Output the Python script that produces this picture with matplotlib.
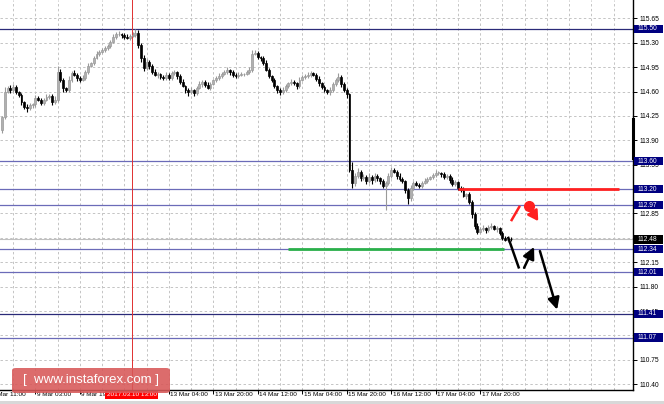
import matplotlib
matplotlib.use("Agg")
import matplotlib.pyplot as plt
import matplotlib.transforms as mtransforms
from matplotlib.patches import Rectangle, FancyBboxPatch

# ---------------- data ----------------
first_open = 114.05
closes = [
    114.23, 114.60, 114.65, 114.62, 114.66, 114.59, 114.55, 114.45, 114.38, 114.36,
    114.40, 114.42, 114.51, 114.48, 114.44, 114.48, 114.52, 114.54, 114.45, 114.48,
    114.88, 114.77, 114.65, 114.62, 114.77, 114.87, 114.84, 114.79, 114.77, 114.79,
    114.88, 114.97, 115.01, 115.08, 115.14, 115.17, 115.20, 115.22, 115.25, 115.31,
    115.38, 115.42, 115.42, 115.41, 115.38, 115.37, 115.40, 115.41, 115.44, 115.27,
    115.08, 114.94, 115.02, 114.97, 114.88, 114.84, 114.85, 114.81, 114.79, 114.84,
    114.79, 114.86, 114.88, 114.82, 114.74, 114.68, 114.62, 114.59, 114.62, 114.58,
    114.65, 114.71, 114.74, 114.69, 114.65, 114.71, 114.76, 114.79, 114.82, 114.85,
    114.88, 114.91, 114.88, 114.84, 114.82, 114.84, 114.85, 114.85, 114.88, 114.91,
    115.14, 115.15, 115.09, 115.08, 115.01, 114.91, 114.82, 114.77, 114.68, 114.62,
    114.59, 114.62, 114.68, 114.72, 114.74, 114.72, 114.68, 114.77, 114.81, 114.82,
    114.84, 114.86, 114.84, 114.78, 114.72, 114.66, 114.62, 114.59, 114.62, 114.71,
    114.76, 114.81, 114.71, 114.62, 114.56, 113.47, 113.29, 113.39, 113.45, 113.36,
    113.37, 113.32, 113.38, 113.33, 113.39, 113.36, 113.31, 113.25, 113.29, 113.39,
    113.47, 113.45, 113.39, 113.35, 113.31, 113.19, 113.07, 113.22, 113.29, 113.26,
    113.25, 113.29, 113.32, 113.35, 113.37, 113.40, 113.43, 113.43, 113.42, 113.37,
    113.39, 113.33, 113.27, 113.30, 113.22, 113.19, 113.10, 113.13, 113.02, 112.84,
    112.67, 112.59, 112.63, 112.64, 112.61, 112.66, 112.67, 112.63, 112.64, 112.57,
    112.50, 112.47, 112.49, 112.48,
]
wick_up = [
    2, 6, 3, 4, 5, 3, 2, 3, 2, 4,  3, 2, 4, 3, 2, 3, 4, 2, 3, 5,
    8, 4, 3, 2, 5, 3, 4, 2, 3, 4,  3, 4, 2, 3, 4, 3, 2, 4, 3, 3,
    4, 3, 5, 2, 3, 4, 3, 5, 6, 4,  3, 5, 4, 3, 2, 4, 3, 2, 3, 4,
    3, 4, 3, 2, 3, 4, 2, 3, 4, 2,  3, 4, 3, 2, 4, 3, 2, 3, 4, 3,
    3, 4, 2, 3, 2, 4, 3, 2, 3, 4,  6, 4, 3, 2, 3, 4, 3, 2, 3, 2,
    3, 4, 3, 2, 4, 3, 2, 4, 3, 3,  4, 3, 2, 3, 4, 2, 3, 2, 4, 3,
    4, 5, 3, 2, 3, 2, 12, 4, 5, 3, 4, 3, 5, 2, 4, 3, 2, 3, 2, 4,
    5, 3, 2, 4, 3, 2, 3, 4, 2, 3,  3, 2, 4, 3, 2, 3, 4, 3, 2, 3,
    3, 2, 4, 3, 2, 3, 4, 2, 3, 2,  3, 4, 3, 5, 2, 3, 4, 2, 3, 2,
    3, 2, 3, 2,
]
wick_dn = [
    4, 3, 2, 4, 3, 2, 3, 4, 3, 5,  2, 3, 4, 2, 3, 4, 2, 3, 4, 3,
    3, 4, 5, 3, 2, 3, 2, 4, 3, 2,  2, 3, 2, 3, 2, 3, 2, 3, 2, 3,
    2, 3, 2, 4, 3, 2, 3, 2, 3, 4,  6, 5, 3, 4, 3, 2, 4, 3, 2, 3,
    3, 2, 3, 4, 3, 2, 4, 5, 3, 4,  3, 2, 4, 3, 2, 3, 2, 3, 2, 3,
    2, 3, 4, 3, 2, 3, 2, 3, 2, 3,  3, 2, 3, 4, 3, 2, 3, 4, 3, 4,
    4, 3, 2, 3, 2, 3, 4, 3, 2, 3,  2, 3, 2, 3, 4, 3, 2, 3, 4, 3,
    3, 2, 4, 3, 5, 3, 8, 4, 3, 5,  3, 4, 3, 5, 3, 4, 3, 4, 35, 3,
    3, 2, 4, 3, 2, 5, 9, 4, 3, 2,  3, 4, 2, 3, 2, 3, 2, 3, 4, 3,
    3, 4, 2, 3, 4, 3, 2, 4, 3, 6,  5, 3, 2, 3, 4, 2, 3, 2, 4, 3,
    3, 2, 3, 2,
]

# support / resistance levels
levels = [115.50, 113.60, 113.20, 112.97, 112.34, 112.01, 111.41, 111.07]
dark_levels = [115.50, 111.41]
current_price = 112.48

y_ticks = [110.40, 110.75, 111.10, 111.45, 111.80, 112.15, 112.50, 112.85,
           113.20, 113.55, 113.90, 114.25, 114.60, 114.95, 115.30, 115.65]
hidden_tick_labels = [111.10, 112.50, 113.20]   # fully covered by price boxes
x_label_pos = [-4, 12, 28, 60, 76, 92, 108, 124, 140, 156, 172]
x_labels = ["8 Mar 11:00", "9 Mar 03:00", "9 Mar 19:00",
            "13 Mar 04:00", "13 Mar 20:00", "14 Mar 12:00", "15 Mar 04:00",
            "15 Mar 20:00", "16 Mar 12:00", "17 Mar 04:00", "17 Mar 20:00"]
x_tick_pos = [12, 28, 44, 60, 76, 92, 108, 124, 140, 156, 172]
cursor_bar = 46.6
cursor_label = "2017.03.10 13:00"

# forecast drawing (bar index, price)
red_level = (113.20, 164.0, 222.0)
green_level = (112.34, 103.0, 180.5)
black_path = [(182.0, 112.515), (186.0, 112.06)]
black_up = [(187.8, 112.07), (191.4, 112.37)]
black_down = [(193.5, 112.31), (199.7, 111.47)]
red_path = [(183.1, 112.74), (186.3, 112.96)]
red_dot = (189.7, 112.96)
red_arrow = [(190.3, 112.90), (192.9, 112.74)]

watermark = "[  www.instaforex.com ]"

# ---------------- figure ----------------
W, H = 664, 404
fig = plt.figure(figsize=(W / 100, H / 100), dpi=100)
fig.patch.set_facecolor("white")
ax = fig.add_axes([0, 14 / H, 633 / W, 390 / H])
ax.set_facecolor("white")
ax.set_xlim(-0.72, 226.98)
ax.set_ylim(110.317, 115.913)

for s in ("top", "left"):
    ax.spines[s].set_visible(False)
for s in ("right", "bottom"):
    ax.spines[s].set_color("black")
    ax.spines[s].set_linewidth(1.0)

# grid
grid_kw = dict(color="#c4c4c4", lw=0.7, ls=(0, (2.5, 2.5)), zorder=0)
for yt in y_ticks:
    ax.axhline(yt, **grid_kw)
for gx in range(-4, 228, 8):
    ax.axvline(gx, **grid_kw)

# y ticks right
ax.yaxis.tick_right()
ax.set_yticks(y_ticks)
ax.set_yticklabels(["" if v in hidden_tick_labels else f"{v:.2f}" for v in y_ticks])
ax.tick_params(axis="y", direction="out", length=3, width=0.7, pad=2,
               labelsize=4.8, colors="black")
for t in ax.get_yticklabels():
    t.set_fontfamily("Liberation Sans")

# x ticks
ax.set_xticks(x_tick_pos)
ax.set_xticklabels([])
ax.tick_params(axis="x", direction="out", length=3, width=0.7)
xtrans = mtransforms.blended_transform_factory(ax.transData, ax.transAxes)
for p, lab in zip(x_label_pos, x_labels):
    ax.text(p + 0.5, -5 / 390, lab, transform=xtrans, ha="left", va="center",
            fontsize=4.6, family="Liberation Sans", color="black", clip_on=False)

# level lines
for lv in levels:
    col = "#2a2a78" if lv in dark_levels else "#6b6bb8"
    ax.axhline(lv, color=col, lw=0.9, zorder=1)
ax.axhline(current_price, color="#c0c0c0", lw=0.8, zorder=1)

# crosshair
ax.axvline(cursor_bar, color="#e03030", lw=0.7, zorder=1)

# candles
opens = [first_open] + closes[:-1]
for i, (o, c, wu, wd) in enumerate(zip(opens, closes, wick_up, wick_dn)):
    hi = max(o, c) + wu / 100
    lo = min(o, c) - wd / 100
    bull = c >= o
    col = "#9a9a9a" if bull else "black"
    ax.vlines(i, lo, hi, color=col, lw=0.8, zorder=3)
    h = max(abs(c - o), 0.008)
    ax.add_patch(Rectangle((i - 0.34, min(o, c)), 0.68, h,
                           facecolor=("#b0b0b0" if bull else "black"),
                           edgecolor=col, lw=0.5, zorder=4))

# forecast lines
ax.hlines(red_level[0], red_level[1], red_level[2], color="#ff2020", lw=2.0, zorder=5)
ax.hlines(green_level[0], green_level[1], green_level[2], color="#2ab04a", lw=2.0, zorder=5)
ax.plot(*zip(*black_path), color="black", lw=1.8, zorder=6, solid_capstyle="butt")
for seg in (black_up, black_down):
    ax.annotate("", xy=seg[1], xytext=seg[0],
                arrowprops=dict(arrowstyle="-|>,head_length=0.7,head_width=0.35",
                                color="black", lw=1.8, shrinkA=0, shrinkB=0), zorder=6)
ax.plot(*zip(*red_path), color="#ff2020", lw=1.8, zorder=6, solid_capstyle="butt")
ax.plot(*red_dot, "o", color="#ff2020", ms=7, zorder=6)
ax.annotate("", xy=red_arrow[1], xytext=red_arrow[0],
            arrowprops=dict(arrowstyle="-|>,head_length=0.6,head_width=0.35",
                            color="#ff2020", lw=1.8, shrinkA=0, shrinkB=0), zorder=6)

# axis scroll marker
ax.plot([227.0, 227.0], [114.21, 113.65], color="black", lw=2.2,
        clip_on=False, zorder=7)

# right price boxes
btrans = mtransforms.blended_transform_factory(fig.transFigure, ax.transData)
box_h = 8.5 / 69.7
for lv in levels + [current_price]:
    fc = "black" if lv == current_price else "#000080"
    fig.patches.append(Rectangle((634 / W, lv - box_h / 2), 29 / W, box_h,
                                 transform=btrans, facecolor=fc, edgecolor="none",
                                 zorder=10, figure=fig))
    fig.text(638 / W, lv, f"{lv:.2f}", transform=btrans, ha="left", va="center",
             fontsize=4.8, family="Liberation Sans", color="white", zorder=11)

# crosshair time label
ax.text(cursor_bar, -5 / 390, cursor_label, transform=xtrans, ha="center",
        va="center", fontsize=4.6, family="Liberation Sans", color="white",
        clip_on=False, zorder=12,
        bbox=dict(boxstyle="square,pad=0.25", facecolor="#ff0000", edgecolor="none"))

# watermark
fig.patches.append(FancyBboxPatch((12 / W, 11 / H), 158 / W, 25 / H,
                                  boxstyle="round,pad=0,rounding_size=0.006",
                                  transform=fig.transFigure, facecolor="#d85858",
                                  edgecolor="none", alpha=0.88, zorder=20, figure=fig))
fig.text(91 / W, 23.5 / H, watermark, ha="center", va="center", fontsize=9.5,
         family="Liberation Sans", color="white", zorder=21)

# window bottom strip
fig.patches.append(Rectangle((0, 0), 1, 3 / H, transform=fig.transFigure,
                             facecolor="#d8d8d8", edgecolor="none", zorder=1, figure=fig))

fig.savefig("out.png", dpi=100)
